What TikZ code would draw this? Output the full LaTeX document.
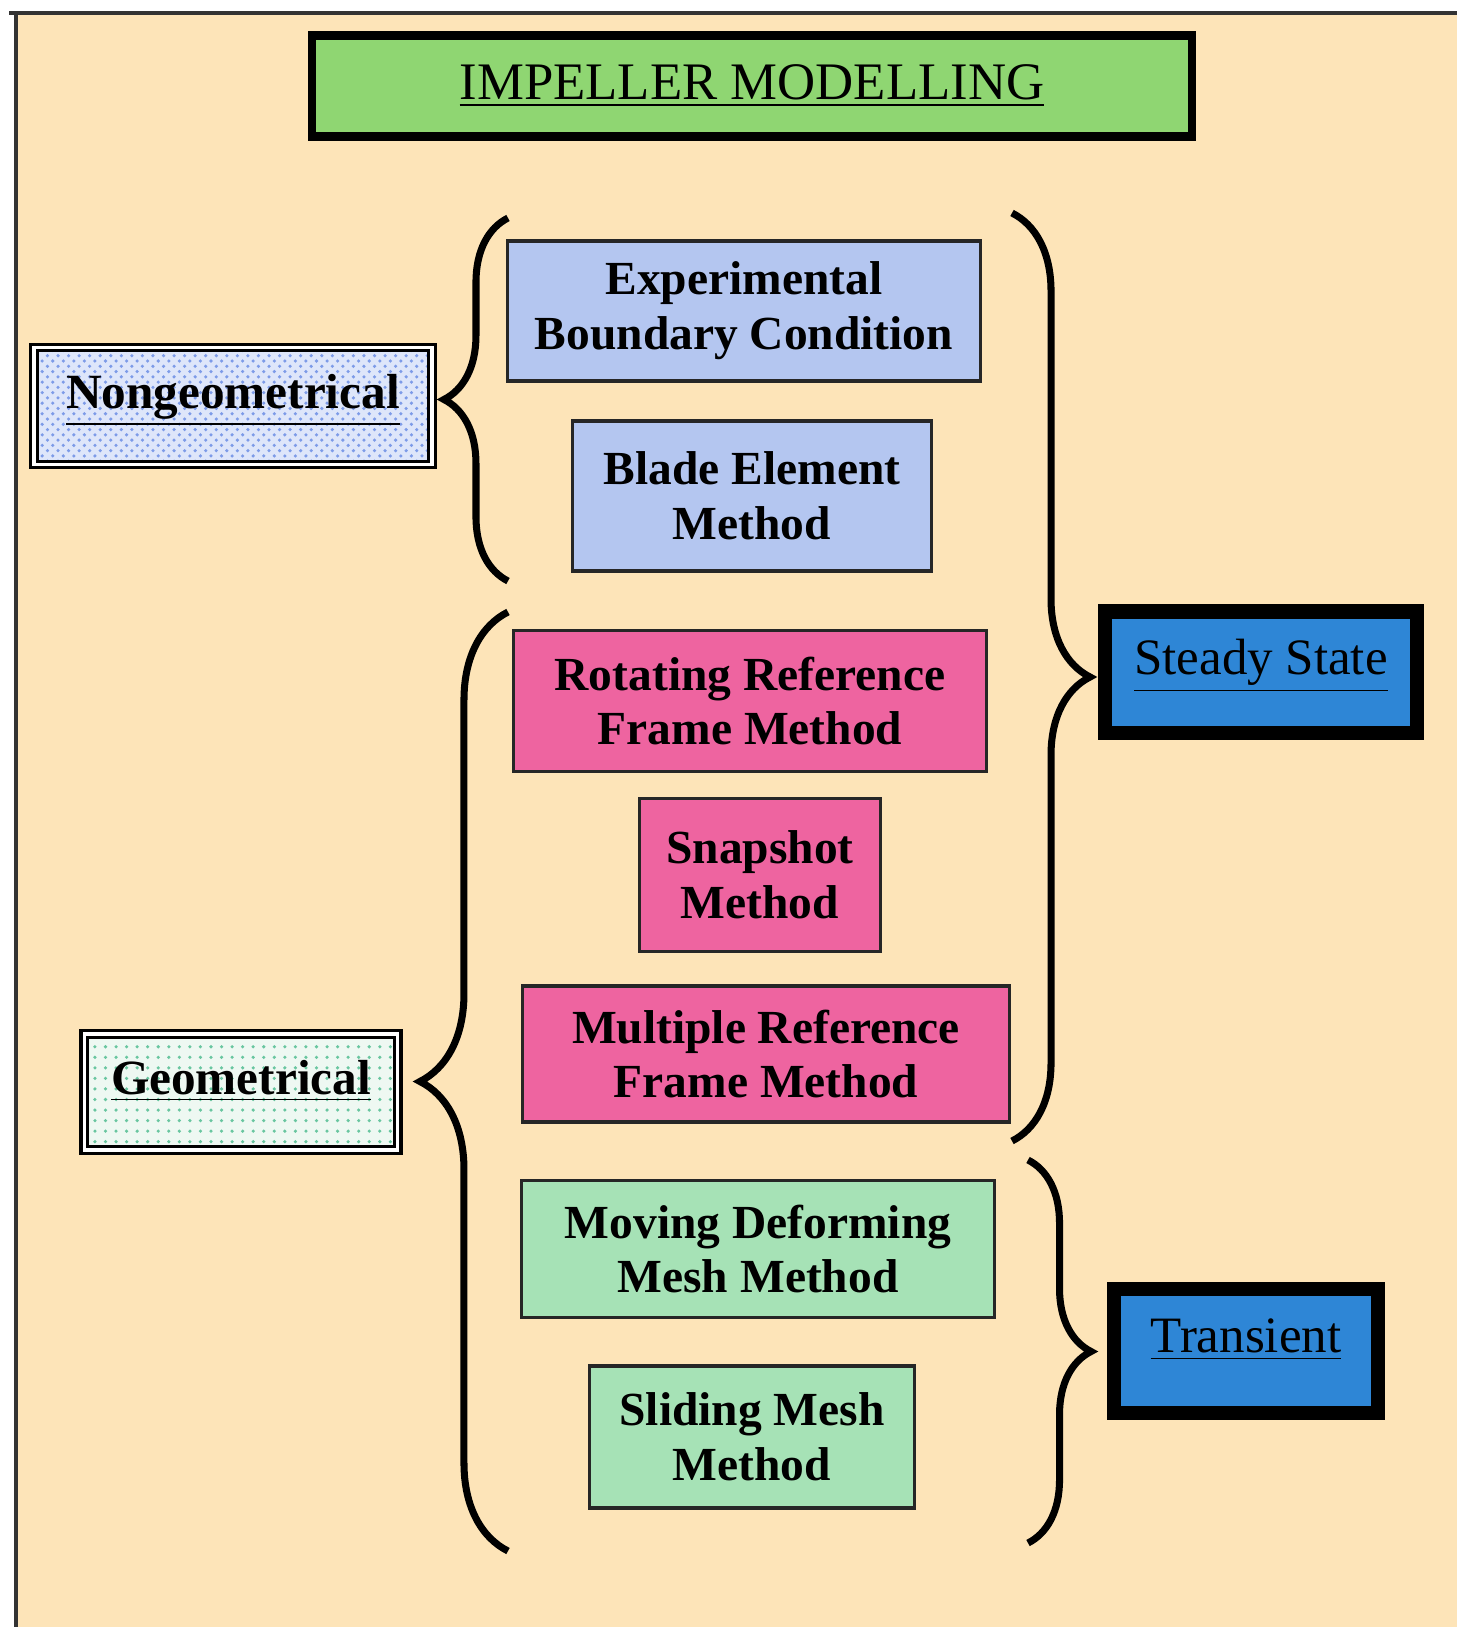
\documentclass[tikz,border=0pt]{standalone}
\usepackage{fontspec}
\setmainfont{Liberation Serif}
\usepackage{xcolor}
\usetikzlibrary{decorations.pathreplacing, patterns, positioning}
\definecolor{peach}{RGB}{253,228,184}
\definecolor{titlegreen}{RGB}{143,214,114}
\definecolor{methodblue}{RGB}{180,198,240}
\definecolor{methodpink}{RGB}{238,100,160}
\definecolor{methodgreen}{RGB}{166,226,182}
\definecolor{stateblue}{RGB}{46,134,214}
\definecolor{dotblue}{RGB}{125,155,232}
\definecolor{paleblue}{RGB}{222,230,250}
\definecolor{dotgreen}{RGB}{105,198,160}
\definecolor{palegreen}{RGB}{238,248,242}
\tikzset{
  headbox/.style={rectangle,draw=black,line width=2.3pt,fill=titlegreen,inner sep=0pt,
    text centered,font=\fontsize{15}{18}\selectfont},
  kindbox/.style={rectangle,draw=black,double=white,double distance=1pt,line width=0.9pt,
    inner sep=0pt,text centered,text depth=0.3cm,font=\bfseries\fontsize{14}{16}\selectfont},
  method/.style={rectangle,draw=black!85,line width=0.9pt,inner sep=0pt,align=center,
    font=\bfseries\fontsize{13.5}{15.6}\selectfont},
  bluebox/.style={method,fill=methodblue},
  pinkbox/.style={method,fill=methodpink},
  greenbox/.style={method,fill=methodgreen},
  statebox/.style={rectangle,draw=black,line width=4pt,fill=stateblue,inner sep=0pt,
    text centered,text depth=0.3cm,font=\fontsize{14.5}{17}\selectfont},
  curly/.style={decorate,decoration={brace,amplitude=#1},line width=2pt}
}

\begin{document}
\begin{tikzpicture}[x=0.01cm,y=-0.01cm]
  \useasboundingbox (0,0) rectangle (1457,1627);
  % page background
  \fill[white] (0,0) rectangle (1457,1627);
  \fill[peach] (16,13) rectangle (1457,1627);
  \draw[black!80,line width=0.9pt] (9,13) -- (1457,13);
  \draw[black!80,line width=0.9pt] (16,13) -- (16,1627);

  \node[headbox,minimum width=8.79cm,minimum height=1.01cm] (title) at (752,86)
    {\underline{IMPELLER MODELLING}};

  \node[kindbox,minimum width=3.98cm,minimum height=1.17cm,
    preaction={fill=paleblue},pattern=crosshatch dots,pattern color=dotblue] (nongeo) at (233,406)
    {\underline{Nongeometrical}};
  \node[kindbox,minimum width=3.13cm,minimum height=1.16cm,
    preaction={fill=palegreen},pattern=dots,pattern color=dotgreen] (geo) at (241,1092)
    {\underline{Geometrical}};

  \node[bluebox,minimum width=4.73cm,minimum height=1.40cm] (expbc) at (744,311)
    {Experimental\\ Boundary Condition};
  \node[bluebox,minimum width=3.58cm,minimum height=1.50cm] (blade) at (752,496)
    {Blade Element\\ Method};
  \node[pinkbox,minimum width=4.72cm,minimum height=1.41cm] (rotref) at (750,701)
    {Rotating Reference\\ Frame Method};
  \node[pinkbox,minimum width=2.41cm,minimum height=1.53cm] (snapshot) at (760,875)
    {Snapshot\\ Method};
  \node[pinkbox,minimum width=4.86cm,minimum height=1.36cm] (multiref) at (766,1054)
    {Multiple Reference\\ Frame Method};
  \node[greenbox,minimum width=4.72cm,minimum height=1.37cm] (movmesh) at (758,1249)
    {Moving Deforming\\ Mesh Method};
  \node[greenbox,minimum width=3.24cm,minimum height=1.42cm] (slidemesh) at (752,1437)
    {Sliding Mesh\\ Method};

  \node[statebox,minimum width=3.12cm,minimum height=1.21cm] (steady) at (1261,672)
    {\underline{Steady State}};
  \node[statebox,minimum width=2.63cm,minimum height=1.24cm] (transient) at (1246,1351)
    {\underline{Transient}};

  % brace ends
  \coordinate (ngtop) at (508,218);
  \coordinate (ngbot) at (508,581);
  \coordinate (gtop) at (508,612);
  \coordinate (gbot) at (508,1551);
  \coordinate (sttop) at (1012,213);
  \coordinate (stbot) at (1012,1141);
  \coordinate (trtop) at (1028,1160);
  \coordinate (trbot) at (1028,1543);

  \draw[curly=0.64cm] (ngbot) -- (ngtop);
  \draw[curly=0.88cm] (gbot) -- (gtop);
  \draw[curly=0.78cm] (sttop) -- (stbot);
  \draw[curly=0.63cm] (trtop) -- (trbot);
\end{tikzpicture}
\end{document}
